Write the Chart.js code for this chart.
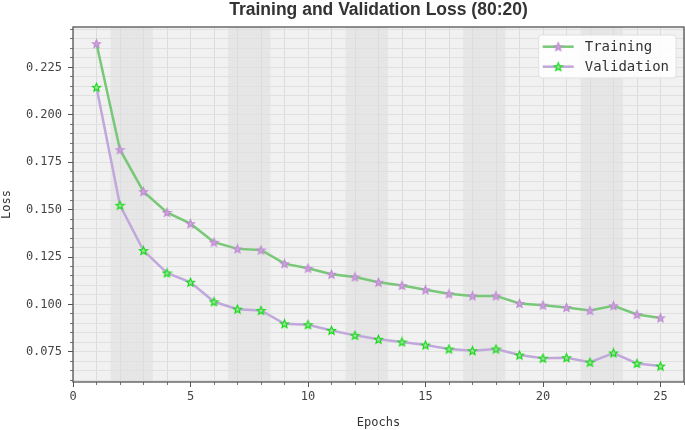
<!DOCTYPE html>
<html><head><meta charset="utf-8">
<script src="https://cdn.jsdelivr.net/npm/chart.js@4.4.0/dist/chart.umd.min.js"></script>
<style>html,body{margin:0;padding:0;background:#fff;} #wrap{width:685px;height:430px;position:relative;}</style>
</head><body><div id="wrap"><canvas id="c" width="685" height="430"></canvas></div>
<script>
const chartTitle = 'Training and Validation Loss (80:20)';
const xTitle = 'Epochs';
const yTitle = 'Loss';
const seriesNames = ['Training', 'Validation'];
const epochs = [1,2,3,4,5,6,7,8,9,10,11,12,13,14,15,16,17,18,19,20,21,22,23,24,25];
const trainingLoss = [0.2375,0.1816,0.1595,0.1485,0.1426,0.1328,0.1293,0.1287,0.1215,0.1191,0.1159,0.1145,0.1117,0.1100,0.1077,0.1056,0.1045,0.1045,0.1005,0.0996,0.0984,0.0968,0.0993,0.0947,0.0929];
const validationLoss = [0.2145,0.1523,0.1284,0.1166,0.1117,0.1014,0.0975,0.0968,0.0898,0.0893,0.0863,0.0837,0.0816,0.0802,0.0786,0.0765,0.0756,0.0765,0.0733,0.0716,0.0719,0.0695,0.0744,0.0689,0.0675];
const yTickLabels = ['0.075','0.100','0.125','0.150','0.175','0.200','0.225'];
const xTickLabels = ['0','5','10','15','20','25'];
const shadedEpochs = [[2,3],[7,8],[12,13],[17,18],[22,23]];

const MONO = "'DejaVu Sans Mono', monospace";
const TRAIN_LINE = 'rgb(120,200,120)';
const VAL_LINE = 'rgb(192,168,218)';

function makeStar(fill, stroke) {
  const c = document.createElement('canvas');
  c.width = 11; c.height = 11;
  const g = c.getContext('2d');
  g.beginPath();
  const R = 4.3, r = 1.9, cx = 5.5, cy = 5.8;
  for (let k = 0; k < 10; k++) {
    const rad = k % 2 === 0 ? R : r;
    const a = -Math.PI / 2 + k * Math.PI / 5;
    const px = cx + rad * Math.cos(a), py = cy + rad * Math.sin(a);
    if (k === 0) g.moveTo(px, py); else g.lineTo(px, py);
  }
  g.closePath();
  g.fillStyle = fill; g.fill();
  g.lineWidth = 1.1; g.strokeStyle = stroke; g.stroke();
  return c;
}
const trainStar = makeStar('rgb(205,160,220)', 'rgb(190,140,210)');
const valStar = makeStar('rgba(140,235,140,0.9)', 'rgb(20,215,20)');

const bgPlugin = {
  id: 'bg',
  beforeDraw(chart) {
    const {ctx, chartArea: a, scales} = chart;
    ctx.save();
    ctx.fillStyle = '#f1f1f1';
    ctx.fillRect(a.left, a.top, a.right - a.left, a.bottom - a.top);
    ctx.fillStyle = '#e6e6e6';
    shadedEpochs.forEach(([s, e]) => {
      const x1 = scales.x.getPixelForValue(s - 0.4);
      const x2 = scales.x.getPixelForValue(e + 0.4);
      ctx.fillRect(x1, a.top, x2 - x1, a.bottom - a.top);
    });
    ctx.restore();
  },
  afterDatasetsDraw(chart) {
    const {ctx, chartArea: a} = chart;
    ctx.save();
    ctx.strokeStyle = '#555';
    ctx.lineWidth = 1.3;
    ctx.strokeRect(a.left, a.top, a.right - a.left, a.bottom - a.top);
    ctx.restore();
  }
};

const titlePlugin = {
  id: 'plotTitle',
  afterDraw(chart) {
    const {ctx, chartArea: a} = chart;
    ctx.save();
    ctx.font = "bold 17.5px 'Liberation Sans', Arial, sans-serif";
    ctx.fillStyle = '#333';
    ctx.textAlign = 'center';
    ctx.textBaseline = 'alphabetic';
    ctx.fillText(chartTitle, (a.left + a.right) / 2, 14.5);
    ctx.restore();
  }
};

const legendPlugin = {
  id: 'customLegend',
  afterDraw(chart) {
    const {ctx, chartArea: a} = chart;
    ctx.save();
    ctx.font = '14px ' + MONO;
    const tw = Math.max(...seriesNames.map(s => ctx.measureText(s).width));
    const w = 46 + tw + 7, h = 43;
    const x = a.right - 8 - w, y = a.top + 8;
    ctx.beginPath();
    ctx.roundRect(x, y, w, h, 3);
    ctx.fillStyle = 'rgba(255,255,255,0.85)';
    ctx.fill();
    ctx.strokeStyle = '#e0e0e0';
    ctx.lineWidth = 1;
    ctx.stroke();
    const rows = [
      {name: seriesNames[0], color: TRAIN_LINE, star: trainStar},
      {name: seriesNames[1], color: VAL_LINE, star: valStar}
    ];
    rows.forEach((r, i) => {
      const cy = y + 11.7 + i * 20;
      ctx.beginPath();
      ctx.moveTo(x + 4, cy); ctx.lineTo(x + 35, cy);
      ctx.strokeStyle = r.color; ctx.lineWidth = 2.5; ctx.stroke();
      ctx.drawImage(r.star, x + 19.5 - r.star.width / 2, cy - r.star.height / 2);
      ctx.fillStyle = '#333';
      ctx.textBaseline = 'middle';
      ctx.textAlign = 'left';
      ctx.fillText(r.name, x + 46, cy + 0.5);
    });
    ctx.restore();
  }
};

const Y_MIN = 0.0591, Y_MAX = 0.2463;

new Chart(document.getElementById('c'), {
  type: 'line',
  data: {
    datasets: [
      {
        label: seriesNames[0],
        data: epochs.map((e, i) => ({x: e, y: trainingLoss[i]})),
        borderColor: TRAIN_LINE, backgroundColor: TRAIN_LINE,
        borderWidth: 2.5, tension: 0,
        pointStyle: trainStar, pointRadius: 4,
        xAxisID: 'x', yAxisID: 'y'
      },
      {
        label: seriesNames[1],
        data: epochs.map((e, i) => ({x: e, y: validationLoss[i]})),
        borderColor: VAL_LINE, backgroundColor: VAL_LINE,
        borderWidth: 2.5, tension: 0,
        pointStyle: valStar, pointRadius: 4,
        xAxisID: 'x', yAxisID: 'y'
      }
    ]
  },
  options: {
    responsive: false,
    animation: false,
    events: [],
    layout: {autoPadding: false, padding: {left: 0, right: 1, top: 27, bottom: 0}},
    plugins: {
      legend: {display: false},
      tooltip: {enabled: false},
      title: {display: false}
    },
    scales: {
      x: {
        type: 'linear', position: 'bottom', min: 0, max: 26, weight: 1,
        afterBuildTicks: s => { s.ticks = xTickLabels.map(v => ({value: parseFloat(v)})); },
        afterFit: s => { s.height = 48; },
        ticks: {
          callback: (v, i) => xTickLabels[i],
          font: {family: MONO, size: 12}, color: '#444', padding: 3, maxRotation: 0
        },
        grid: {drawOnChartArea: false, drawTicks: true, tickLength: 5, tickColor: '#555', tickWidth: 1},
        border: {display: false},
        title: {display: true, text: xTitle, color: '#333', font: {family: MONO, size: 12}, padding: 0}
      },
      xMinor: {
        type: 'linear', position: 'bottom', min: 0, max: 26, weight: 0,
        afterBuildTicks: s => { const t = []; for (let k = 0; k <= 26; k++) t.push({value: k}); s.ticks = t; },
        afterFit: s => { s.height = 0; },
        ticks: {display: false},
        grid: {color: '#dcdcdc', lineWidth: 1, drawTicks: true, tickLength: 3, tickColor: '#555', tickWidth: 0.8},
        border: {display: false}
      },
      y: {
        type: 'linear', position: 'left', min: Y_MIN, max: Y_MAX, weight: 1,
        afterBuildTicks: s => { s.ticks = yTickLabels.map(v => ({value: parseFloat(v)})); },
        afterFit: s => { s.width = 73; },
        ticks: {
          callback: (v, i) => yTickLabels[i],
          font: {family: MONO, size: 12}, color: '#444', padding: 6
        },
        grid: {color: 'rgba(120,120,120,0.65)', lineWidth: 1, drawTicks: true, tickLength: 5, tickColor: '#555', tickWidth: 1},
        border: {display: false, dash: [3, 1.6]},
        title: {display: true, text: yTitle, color: '#333', font: {family: MONO, size: 12}, padding: 0}
      },
      yMinor: {
        type: 'linear', position: 'left', min: Y_MIN, max: Y_MAX, weight: 0,
        afterBuildTicks: s => { const t = []; for (let k = 12; k <= 49; k++) t.push({value: k * 5 / 1000}); s.ticks = t; },
        afterFit: s => { s.width = 0; },
        ticks: {display: false},
        grid: {color: '#e0e0e0', lineWidth: 1, drawTicks: true, tickLength: 3, tickColor: '#555', tickWidth: 0.8},
        border: {display: false}
      }
    }
  },
  plugins: [bgPlugin, titlePlugin, legendPlugin]
});
</script>
</body></html>
